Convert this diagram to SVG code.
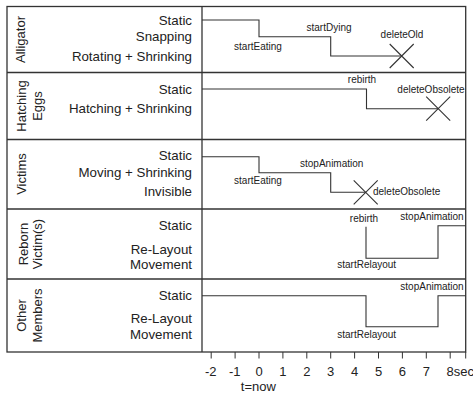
<svg xmlns="http://www.w3.org/2000/svg" width="473" height="395" viewBox="0 0 473 395">
<style>
text{font-family:"Liberation Sans",Arial,sans-serif;fill:#222}
.st{font-size:13.3px;text-anchor:end}
.lb{font-size:13px;text-anchor:middle}
.ev{font-size:10px;text-anchor:middle}
.ax{font-size:13px;text-anchor:middle}
.frame{fill:none;stroke:#333;stroke-width:1.3}
.sig{fill:none;stroke:#333;stroke-width:1.1}
</style>
<rect width="473" height="395" fill="#fff"/>
<g id="frame">
<rect class="frame" x="7" y="6.5" width="458.7" height="345.5"/>
<line class="frame" x1="202" y1="6.5" x2="202" y2="352"/>
<line class="frame" x1="7" y1="72.5" x2="465.7" y2="72.5"/>
<line class="frame" x1="7" y1="139.5" x2="465.7" y2="139.5"/>
<line class="frame" x1="7" y1="209" x2="465.7" y2="209"/>
<line class="frame" x1="7" y1="279" x2="465.7" y2="279"/>
</g>
<g id="alligator">
<text class="lb" transform="translate(25,39.5) rotate(-90)">Alligator</text>
<text class="st" x="192" y="25">Static</text>
<text class="st" x="192" y="41.4">Snapping</text>
<text class="st" x="192" y="61">Rotating + Shrinking</text>
</g>
<g id="hatching">
<text class="lb" transform="translate(26,106) rotate(-90)">Hatching</text>
<text class="lb" transform="translate(41.5,106) rotate(-90)">Eggs</text>
<text class="st" x="192" y="94.4">Static</text>
<text class="st" x="192" y="112.7">Hatching + Shrinking</text>
</g>
<g id="victims">
<text class="lb" transform="translate(26,174) rotate(-90)">Victims</text>
<text class="st" x="192" y="160.4">Static</text>
<text class="st" x="192" y="176.7">Moving + Shrinking</text>
<text class="st" x="192" y="196">Invisible</text>
</g>
<g id="reborn">
<text class="lb" transform="translate(27.5,244) rotate(-90)">Reborn</text>
<text class="lb" transform="translate(41.5,244) rotate(-90)">Victim(s)</text>
<text class="st" x="192" y="230">Static</text>
<text class="st" x="192" y="253.7">Re-Layout</text>
<text class="st" x="192" y="268.7">Movement</text>
</g>
<g id="other">
<text class="lb" transform="translate(26,315.5) rotate(-90)">Other</text>
<text class="lb" transform="translate(41.5,315.5) rotate(-90)">Members</text>
<text class="st" x="192" y="299.5">Static</text>
<text class="st" x="192" y="322.7">Re-Layout</text>
<text class="st" x="192" y="338.7">Movement</text>
</g>
<g id="connectors">
<polyline class="sig" points="202,20 259,20 259,36.7 330.7,36.7 330.7,56 401.7,56"/>
<path class="sig" d="M389.7,44 L413.7,68 M413.7,44 L389.7,68"/>
<polyline class="sig" points="202,89 366.5,89 366.5,108.7 438.2,108.7"/>
<path class="sig" d="M426.2,96.7 L450.2,120.7 M450.2,96.7 L426.2,120.7"/>
<polyline class="sig" points="202,156.7 259,156.7 259,172.7 330.7,172.7 330.7,192.3 365.7,192.3"/>
<path class="sig" d="M353.7,180.3 L377.7,204.3 M377.7,180.3 L353.7,204.3"/>
<polyline class="sig" points="366,226.7 366,258.3 438,258.3 438,225.7 465.7,225.7"/>
<polyline class="sig" points="202,295.7 366,295.7 366,326.7 438,326.7 438,295.7 465.7,295.7"/>
</g>
<g id="events">
<text class="ev" x="258" y="50">startEating</text>
<text class="ev" x="329" y="31">startDying</text>
<text class="ev" x="402" y="38">deleteOld</text>
<text class="ev" x="362" y="83">rebirth</text>
<text class="ev" x="431" y="93">deleteObsolete</text>
<text class="ev" x="331.7" y="166.7">stopAnimation</text>
<text class="ev" x="258" y="184">startEating</text>
<text class="ev" x="373" y="195" style="text-anchor:start">deleteObsolete</text>
<text class="ev" x="364" y="222">rebirth</text>
<text class="ev" x="432" y="220">stopAnimation</text>
<text class="ev" x="366.7" y="267.7">startRelayout</text>
<text class="ev" x="432" y="290">stopAnimation</text>
<text class="ev" x="366.7" y="337.7">startRelayout</text>
</g>
<g id="axis" stroke="#333" stroke-width="1">
<line x1="211.2" y1="352" x2="211.2" y2="358.5"/>
<line x1="235.1" y1="352" x2="235.1" y2="358.5"/>
<line x1="259" y1="352" x2="259" y2="358.5"/>
<line x1="282.9" y1="352" x2="282.9" y2="358.5"/>
<line x1="306.8" y1="352" x2="306.8" y2="358.5"/>
<line x1="330.7" y1="352" x2="330.7" y2="358.5"/>
<line x1="354.6" y1="352" x2="354.6" y2="358.5"/>
<line x1="378.5" y1="352" x2="378.5" y2="358.5"/>
<line x1="402.4" y1="352" x2="402.4" y2="358.5"/>
<line x1="426.3" y1="352" x2="426.3" y2="358.5"/>
<line x1="450.2" y1="352" x2="450.2" y2="358.5"/>
<line x1="465.7" y1="352" x2="465.7" y2="358.5"/>
</g>
<g id="axis-labels">
<text class="ax" x="210.8" y="375.7">-2</text>
<text class="ax" x="234.7" y="375.7">-1</text>
<text class="ax" x="259" y="375.7">0</text>
<text class="ax" x="282.9" y="375.7">1</text>
<text class="ax" x="306.8" y="375.7">2</text>
<text class="ax" x="330.7" y="375.7">3</text>
<text class="ax" x="354.6" y="375.7">4</text>
<text class="ax" x="378.5" y="375.7">5</text>
<text class="ax" x="402.4" y="375.7">6</text>
<text class="ax" x="426.3" y="375.7">7</text>
<text class="ax" x="446.6" y="375.7" style="text-anchor:start">8sec</text>
<text class="ax" x="258.3" y="390.7">t=now</text>
</g>
</svg>
